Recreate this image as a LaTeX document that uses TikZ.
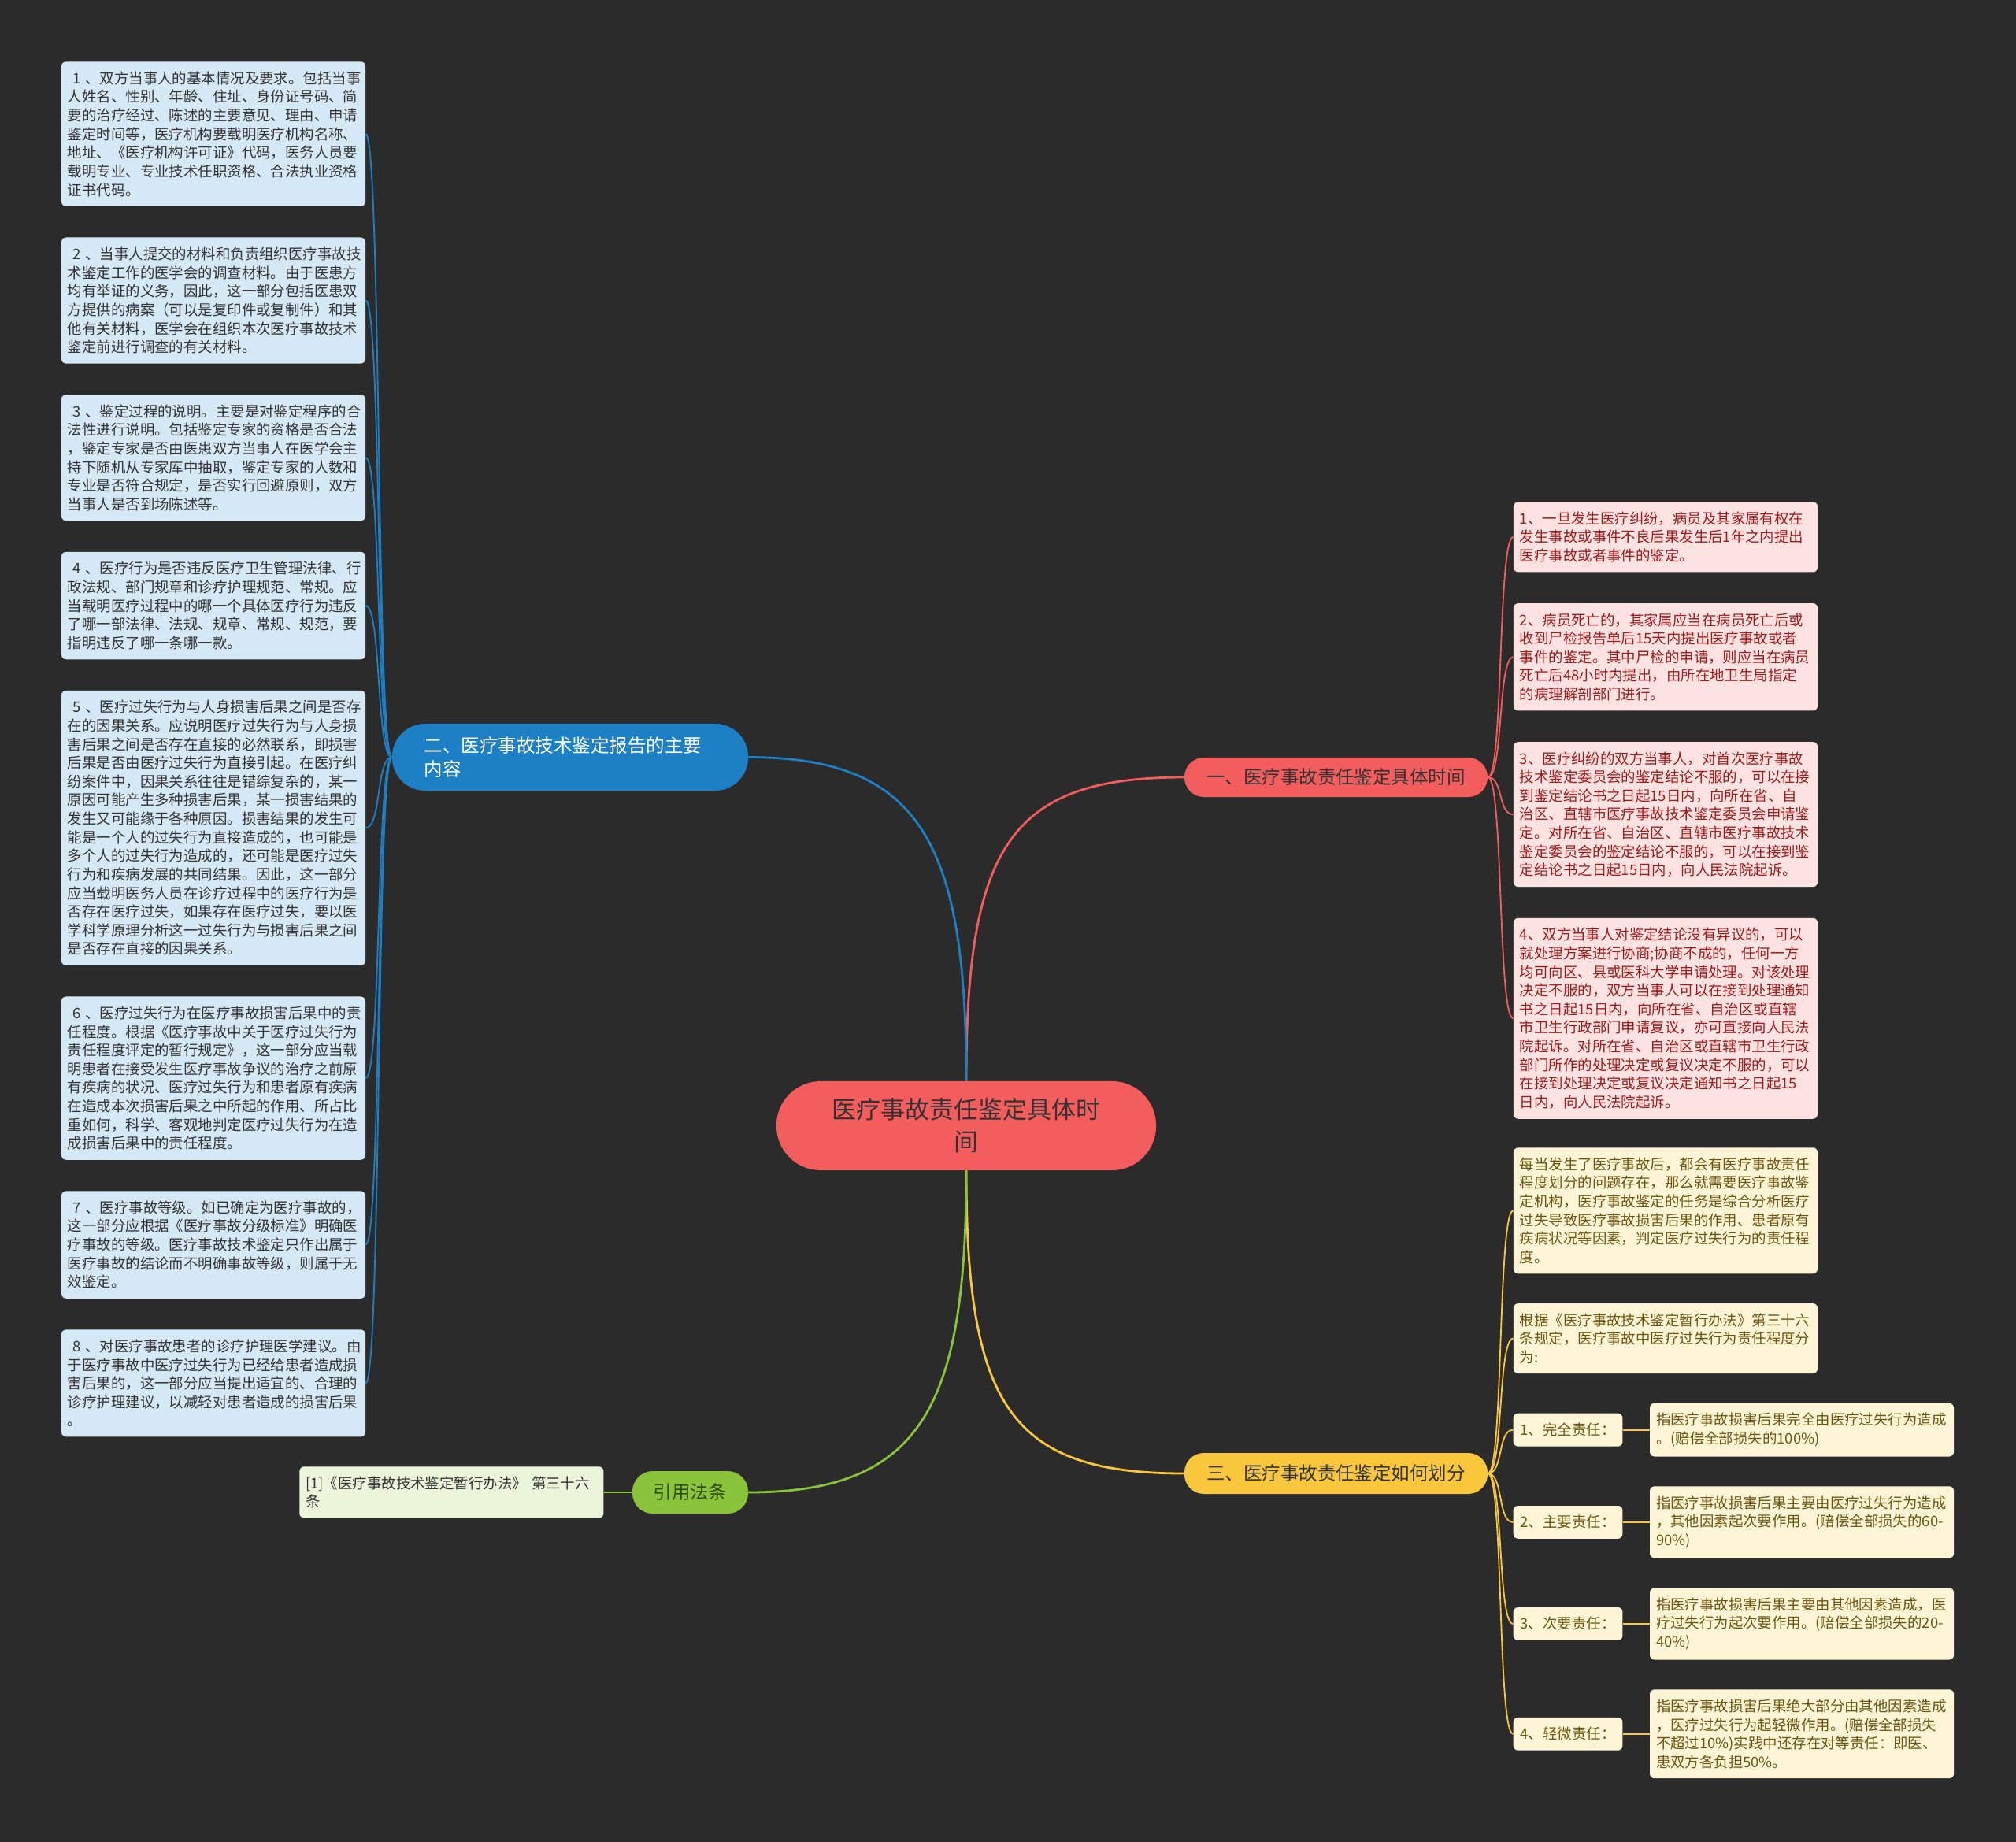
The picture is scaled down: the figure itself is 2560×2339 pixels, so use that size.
\documentclass[tikz,border=0pt]{standalone}
\usepackage{fontspec}
\setmainfont{Noto Sans CJK SC}
\usetikzlibrary{positioning}
\definecolor{canvas}{HTML}{2B2B2B}
\definecolor{rootred}{HTML}{F45D5D}
\definecolor{mapblue}{HTML}{1E80C4}
\definecolor{mapyellow}{HTML}{F8C73C}
\definecolor{mapgreen}{HTML}{8AC43A}
\definecolor{leafblue}{HTML}{D5E8F5}
\definecolor{leafred}{HTML}{FDE2E2}
\definecolor{leafyellow}{HTML}{FEF5D7}
\definecolor{leafgreen}{HTML}{EAF5DA}
\definecolor{inkdark}{HTML}{333333}
\definecolor{inkred}{HTML}{9E1C1C}
\definecolor{inkyellow}{HTML}{6B560F}
\definecolor{inkgreen}{HTML}{2F4D0C}
\newcommand{\leaffont}{\fontsize{13.1pt}{16.8pt}\selectfont}
\newcommand{\branchfont}{\fontsize{16.7pt}{22pt}\selectfont}
\newcommand{\rootfont}{\fontsize{22pt}{29pt}\selectfont}
\tikzset{
  leafbox/.style={
    rounded corners=0.15cm,
    align=left,
    text width=9.25cm,
    inner xsep=0.2cm,
    inner ysep=0.31cm,
    font=\leaffont
  },
  blueleaf/.style={leafbox, fill=leafblue, text=inkdark},
  redleaf/.style={leafbox, fill=leafred, text=inkred},
  yellowleaf/.style={leafbox, fill=leafyellow, text=inkyellow},
  greenleaf/.style={leafbox, fill=leafgreen, text=inkdark},
  tagbox/.style={
    rounded corners=0.15cm,
    inner xsep=0.225cm,
    inner ysep=0.31cm,
    font=\leaffont,
    fill=leafyellow,
    text=inkyellow
  },
  branchbox/.style={
    rounded corners=0.62cm,
    inner sep=0pt,
    minimum height=1.25cm,
    align=center,
    font=\branchfont
  },
  rootbox/.style={
    fill=rootred,
    text=inkdark,
    rounded corners=1.4cm,
    inner sep=0pt,
    minimum width=12.05cm,
    minimum height=2.825cm,
    align=center,
    font=\rootfont
  },
  mainlink/.style={line width=2pt},
  leaflink/.style={line width=1.3pt}
}

\begin{document}
\begin{tikzpicture}[x=0.025cm, y=-0.025cm, node distance=0.975cm and 0.85cm]
\fill[canvas] (0,0) rectangle (2560,2339);

\node[rootbox] (root) at (1227,1429.5) {医疗事故责任鉴定具体时\\间};

\node[branchbox, fill=rootred, text=inkdark, minimum width=9.625cm] (timing) at (1696.5,987) {一、医疗事故责任鉴定具体时间};
\node[branchbox, fill=mapblue, text=white, align=left, text width=9.25cm, inner xsep=1.025cm, minimum height=2.125cm, rounded corners=1.05cm] (report) at (724,961.5) {二、医疗事故技术鉴定报告的主要\\内容};
\node[branchbox, fill=mapyellow, text=inkdark, minimum width=9.625cm, minimum height=1.3cm] (division) at (1696.5,1871) {三、医疗事故责任鉴定如何划分};
\node[branchbox, fill=mapgreen, text=inkgreen, minimum width=3.675cm, minimum height=1.35cm, rounded corners=0.65cm] (law) at (876.5,1895) {引用法条};

% report contents
\node[blueleaf, anchor=north] (part1) at (271,78) {~1~、双方当事人的基本情况及要求。包括当事\\人姓名、性别、年龄、住址、身份证号码、简\\要的治疗经过、陈述的主要意见、理由、申请\\鉴定时间等，医疗机构要载明医疗机构名称、\\地址、《医疗机构许可证》代码，医务人员要\\载明专业、专业技术任职资格、合法执业资格\\证书代码。};
\node[blueleaf, below=of part1] (part2) {~2~、当事人提交的材料和负责组织医疗事故技\\术鉴定工作的医学会的调查材料。由于医患方\\均有举证的义务，因此，这一部分包括医患双\\方提供的病案（可以是复印件或复制件）和其\\他有关材料，医学会在组织本次医疗事故技术\\鉴定前进行调查的有关材料。};
\node[blueleaf, below=of part2] (part3) {~3~、鉴定过程的说明。主要是对鉴定程序的合\\法性进行说明。包括鉴定专家的资格是否合法\\，鉴定专家是否由医患双方当事人在医学会主\\持下随机从专家库中抽取，鉴定专家的人数和\\专业是否符合规定，是否实行回避原则，双方\\当事人是否到场陈述等。};
\node[blueleaf, below=of part3] (part4) {~4~、医疗行为是否违反医疗卫生管理法律、行\\政法规、部门规章和诊疗护理规范、常规。应\\当载明医疗过程中的哪一个具体医疗行为违反\\了哪一部法律、法规、规章、常规、规范，要\\指明违反了哪一条哪一款。};
\node[blueleaf, below=of part4] (part5) {~5~、医疗过失行为与人身损害后果之间是否存\\在的因果关系。应说明医疗过失行为与人身损\\害后果之间是否存在直接的必然联系，即损害\\后果是否由医疗过失行为直接引起。在医疗纠\\纷案件中，因果关系往往是错综复杂的，某一\\原因可能产生多种损害后果，某一损害结果的\\发生又可能缘于各种原因。损害结果的发生可\\能是一个人的过失行为直接造成的，也可能是\\多个人的过失行为造成的，还可能是医疗过失\\行为和疾病发展的共同结果。因此，这一部分\\应当载明医务人员在诊疗过程中的医疗行为是\\否存在医疗过失，如果存在医疗过失，要以医\\学科学原理分析这一过失行为与损害后果之间\\是否存在直接的因果关系。};
\node[blueleaf, below=of part5] (part6) {~6~、医疗过失行为在医疗事故损害后果中的责\\任程度。根据《医疗事故中关于医疗过失行为\\责任程度评定的暂行规定》，这一部分应当载\\明患者在接受发生医疗事故争议的治疗之前原\\有疾病的状况、医疗过失行为和患者原有疾病\\在造成本次损害后果之中所起的作用、所占比\\重如何，科学、客观地判定医疗过失行为在造\\成损害后果中的责任程度。};
\node[blueleaf, below=of part6] (part7) {~7~、医疗事故等级。如已确定为医疗事故的，\\这一部分应根据《医疗事故分级标准》明确医\\疗事故的等级。医疗事故技术鉴定只作出属于\\医疗事故的结论而不明确事故等级，则属于无\\效鉴定。};
\node[blueleaf, below=of part7] (part8) {~8~、对医疗事故患者的诊疗护理医学建议。由\\于医疗事故中医疗过失行为已经给患者造成损\\害后果的，这一部分应当提出适宜的、合理的\\诊疗护理建议，以减轻对患者造成的损害后果\\。};

% time limits
\node[redleaf, anchor=north] (time1) at (2115,637) {1、一旦发生医疗纠纷，病员及其家属有权在\\发生事故或事件不良后果发生后1年之内提出\\医疗事故或者事件的鉴定。};
\node[redleaf, below=of time1] (time2) {2、病员死亡的，其家属应当在病员死亡后或\\收到尸检报告单后15天内提出医疗事故或者\\事件的鉴定。其中尸检的申请，则应当在病员\\死亡后48小时内提出，由所在地卫生局指定\\的病理解剖部门进行。};
\node[redleaf, below=of time2] (time3) {3、医疗纠纷的双方当事人，对首次医疗事故\\技术鉴定委员会的鉴定结论不服的，可以在接\\到鉴定结论书之日起15日内，向所在省、自\\治区、直辖市医疗事故技术鉴定委员会申请鉴\\定。对所在省、自治区、直辖市医疗事故技术\\鉴定委员会的鉴定结论不服的，可以在接到鉴\\定结论书之日起15日内，向人民法院起诉。};
\node[redleaf, below=of time3] (time4) {4、双方当事人对鉴定结论没有异议的，可以\\就处理方案进行协商;协商不成的，任何一方\\均可向区、县或医科大学申请处理。对该处理\\决定不服的，双方当事人可以在接到处理通知\\书之日起15日内，向所在省、自治区或直辖\\市卫生行政部门申请复议，亦可直接向人民法\\院起诉。对所在省、自治区或直辖市卫生行政\\部门所作的处理决定或复议决定不服的，可以\\在接到处理决定或复议决定通知书之日起15\\日内，向人民法院起诉。};

% responsibility shares
\node[yellowleaf, anchor=north] (share1) at (2115,1457) {每当发生了医疗事故后，都会有医疗事故责任\\程度划分的问题存在，那么就需要医疗事故鉴\\定机构，医疗事故鉴定的任务是综合分析医疗\\过失导致医疗事故损害后果的作用、患者原有\\疾病状况等因素，判定医疗过失行为的责任程\\度。};
\node[yellowleaf, below=0.93cm of share1] (share2) {根据《医疗事故技术鉴定暂行办法》第三十六\\条规定，医疗事故中医疗过失行为责任程度分\\为:};
\node[yellowleaf, below=0.93cm of share2, xshift=4.325cm] (rule1) {指医疗事故损害后果完全由医疗过失行为造成\\。(赔偿全部损失的100\%)};
\node[yellowleaf, below=0.93cm of rule1] (rule2) {指医疗事故损害后果主要由医疗过失行为造成\\，其他因素起次要作用。(赔偿全部损失的60-\\90\%)};
\node[yellowleaf, below=0.93cm of rule2] (rule3) {指医疗事故损害后果主要由其他因素造成，医\\疗过失行为起次要作用。(赔偿全部损失的20-\\40\%)};
\node[yellowleaf, below=0.93cm of rule3] (rule4) {指医疗事故损害后果绝大部分由其他因素造成\\，医疗过失行为起轻微作用。(赔偿全部损失\\不超过10\%)实践中还存在对等责任：即医、\\患双方各负担50\%。};
\node[tagbox, left=of rule1] (tag1) {1、完全责任：};
\node[tagbox, left=of rule2] (tag2) {2、主要责任：};
\node[tagbox, left=of rule3] (tag3) {3、次要责任：};
\node[tagbox, left=of rule4] (tag4) {4、轻微责任：};

% cited law
\node[greenleaf, left=0.9cm of law] (cite) {[1]《医疗事故技术鉴定暂行办法》 第三十六\\条};

% main branches
\draw[mainlink, draw=rootred] (root.north) .. controls +(0,-300) and +(-220,0) .. (timing.west);
\draw[mainlink, draw=mapblue] (root.north) .. controls +(0,-300) and +(220,0) .. (report.east);
\draw[mainlink, draw=mapyellow] (root.south) .. controls +(0,300) and +(-220,0) .. (division.west);
\draw[mainlink, draw=mapgreen] (root.south) .. controls +(0,300) and +(220,0) .. (law.east);

\draw[leaflink, draw=mapblue] (report.west) .. controls +(-20,0) and +(20,0) .. (part1.east);
\draw[leaflink, draw=mapblue] (report.west) .. controls +(-20,0) and +(20,0) .. (part2.east);
\draw[leaflink, draw=mapblue] (report.west) .. controls +(-20,0) and +(20,0) .. (part3.east);
\draw[leaflink, draw=mapblue] (report.west) .. controls +(-20,0) and +(20,0) .. (part4.east);
\draw[leaflink, draw=mapblue] (report.west) .. controls +(-20,0) and +(20,0) .. (part5.east);
\draw[leaflink, draw=mapblue] (report.west) .. controls +(-20,0) and +(20,0) .. (part6.east);
\draw[leaflink, draw=mapblue] (report.west) .. controls +(-20,0) and +(20,0) .. (part7.east);
\draw[leaflink, draw=mapblue] (report.west) .. controls +(-20,0) and +(20,0) .. (part8.east);

\draw[leaflink, draw=rootred] (timing.east) .. controls +(20,0) and +(-20,0) .. (time1.west);
\draw[leaflink, draw=rootred] (timing.east) .. controls +(20,0) and +(-20,0) .. (time2.west);
\draw[leaflink, draw=rootred] (timing.east) .. controls +(20,0) and +(-20,0) .. (time3.west);
\draw[leaflink, draw=rootred] (timing.east) .. controls +(20,0) and +(-20,0) .. (time4.west);

\draw[leaflink, draw=mapyellow] (division.east) .. controls +(20,0) and +(-20,0) .. (share1.west);
\draw[leaflink, draw=mapyellow] (division.east) .. controls +(20,0) and +(-20,0) .. (share2.west);
\draw[leaflink, draw=mapyellow] (division.east) .. controls +(20,0) and +(-20,0) .. (tag1.west);
\draw[leaflink, draw=mapyellow] (division.east) .. controls +(20,0) and +(-20,0) .. (tag2.west);
\draw[leaflink, draw=mapyellow] (division.east) .. controls +(20,0) and +(-20,0) .. (tag3.west);
\draw[leaflink, draw=mapyellow] (division.east) .. controls +(20,0) and +(-20,0) .. (tag4.west);
\draw[leaflink, draw=mapyellow] (tag1) -- (rule1);
\draw[leaflink, draw=mapyellow] (tag2) -- (rule2);
\draw[leaflink, draw=mapyellow] (tag3) -- (rule3);
\draw[leaflink, draw=mapyellow] (tag4) -- (rule4);

\draw[leaflink, draw=mapgreen] (law) -- (cite);
\end{tikzpicture}
\end{document}
